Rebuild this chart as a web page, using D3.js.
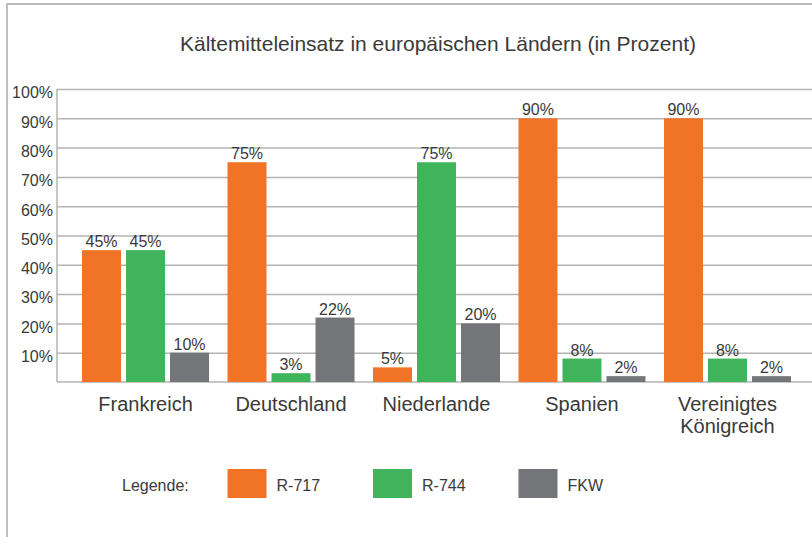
<!DOCTYPE html>
<html>
<head>
<meta charset="utf-8">
<script src="https://cdn.jsdelivr.net/npm/d3@7"></script>
<style>
  html, body { margin: 0; padding: 0; background: #fff; }
  svg { display: block; font-family: 'Liberation Sans', Arial, sans-serif; }
</style>
</head>
<body>
<div id="chart"></div>
<script>
const width = 812;
const height = 537;

const categories = ['Frankreich', 'Deutschland', 'Niederlande', 'Spanien', 'Vereinigtes Königreich'];
const series = ['R-717', 'R-744', 'FKW'];
const r717 = [45, 75, 5, 90, 90];
const r744 = [45, 3, 75, 8, 8];
const fkw = [10, 22, 20, 2, 2];
const yTicks = [10, 20, 30, 40, 50, 60, 70, 80, 90, 100];

const colors = ['#f17325', '#40b45b', '#747578'];
const textColor = '#3a3a3a';
const gridColor = '#b3b3b3';

const values = [r717, r744, fkw];
const rows = categories.map((c, i) => ({
  label: c,
  bars: series.map((s, j) => ({ key: s, value: values[j][i], color: colors[j] }))
}));

// plot bounds
const axisX = 57;
const yBase = 382;
const yTop = 89;

const x = d3.scaleBand()
  .domain(categories)
  .range([axisX, 816])
  .paddingInner(0.127)
  .paddingOuter(0.172);

const xInner = d3.scaleBand()
  .domain(series)
  .range([0, x.bandwidth()])
  .paddingInner(0.1136)
  .paddingOuter(0);

const y = d3.scaleLinear()
  .domain([0, 100])
  .range([yBase, yTop]);

const svg = d3.select('#chart').append('svg')
  .attr('width', width)
  .attr('height', height);

// frame (left + top edges only are visible)
svg.append('path')
  .attr('d', `M7,${height} V4 H${width}`)
  .attr('fill', 'none')
  .attr('stroke', '#bdbdbd')
  .attr('stroke-width', 2);

svg.append('text')
  .attr('x', 438)
  .attr('y', 51)
  .attr('text-anchor', 'middle')
  .attr('font-size', 21)
  .attr('fill', textColor)
  .text('Kältemitteleinsatz in europäischen Ländern (in Prozent)');

// grid + y labels
const yAxis = d3.axisLeft(y)
  .tickValues(yTicks)
  .tickSize(-(width - axisX))
  .tickPadding(4)
  .tickFormat(d => d + '%');

const gy = svg.append('g')
  .attr('transform', `translate(${axisX},0)`)
  .call(yAxis);

gy.select('.domain').remove();
gy.selectAll('.tick line')
  .attr('stroke', gridColor)
  .attr('stroke-width', 1.5);
gy.selectAll('.tick text')
  .attr('font-size', 16)
  .attr('font-family', "'Liberation Sans', Arial, sans-serif")
  .attr('fill', textColor)
  .attr('dy', '0.55em');

svg.append('line')
  .attr('x1', axisX).attr('x2', axisX)
  .attr('y1', yTop).attr('y2', yBase)
  .attr('stroke', gridColor)
  .attr('stroke-width', 1.5);

svg.append('line')
  .attr('x1', axisX).attr('x2', width)
  .attr('y1', yBase).attr('y2', yBase)
  .attr('stroke', gridColor)
  .attr('stroke-width', 1.5);

// bars
const groups = svg.selectAll('.group')
  .data(rows)
  .enter().append('g')
    .attr('class', 'group')
    .attr('transform', d => `translate(${x(d.label)},0)`);

groups.selectAll('rect')
  .data(d => d.bars)
  .enter().append('rect')
    .attr('x', d => xInner(d.key))
    .attr('width', xInner.bandwidth())
    .attr('y', d => y(d.value))
    .attr('height', d => yBase - y(d.value))
    .attr('fill', d => d.color);

groups.selectAll('.val')
  .data(d => d.bars)
  .enter().append('text')
    .attr('class', 'val')
    .attr('x', d => xInner(d.key) + xInner.bandwidth() / 2)
    .attr('y', d => y(d.value) - 3)
    .attr('text-anchor', 'middle')
    .attr('font-size', 16)
    .attr('fill', textColor)
    .text(d => d.value + '%');

// category labels (UK wraps to two lines)
const catLabels = svg.selectAll('.cat')
  .data(categories)
  .enter().append('text')
    .attr('class', 'cat')
    .attr('text-anchor', 'middle')
    .attr('font-size', 20)
    .attr('fill', textColor)
    .attr('y', 411);

catLabels.each(function (d) {
  const cx = x(d) + x.bandwidth() / 2;
  const words = d === 'Vereinigtes Königreich' ? d.split(' ') : [d];
  d3.select(this).selectAll('tspan')
    .data(words)
    .enter().append('tspan')
      .attr('x', cx)
      .attr('dy', (w, i) => i === 0 ? 0 : 22)
      .text(w => w);
});

// legend
svg.append('text')
  .attr('x', 122)
  .attr('y', 491)
  .attr('font-size', 16)
  .attr('fill', textColor)
  .text('Legende:');

const legend = svg.selectAll('.legend')
  .data(series)
  .enter().append('g')
    .attr('class', 'legend')
    .attr('transform', (d, i) => `translate(${x(categories[i + 1])},469)`);

legend.append('rect')
  .attr('width', xInner.bandwidth())
  .attr('height', 29)
  .attr('fill', (d, i) => colors[i]);

legend.append('text')
  .attr('x', 49)
  .attr('y', 22)
  .attr('font-size', 16)
  .attr('fill', textColor)
  .text(d => d);
</script>
</body>
</html>
